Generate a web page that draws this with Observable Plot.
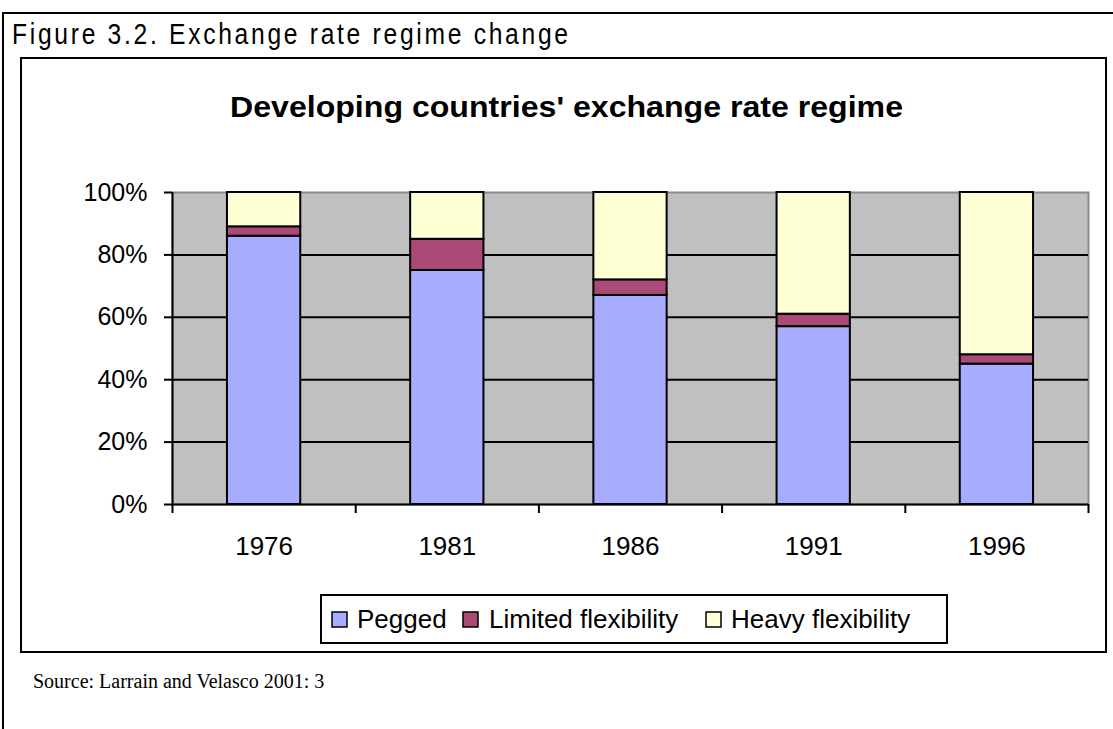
<!DOCTYPE html>
<html><head><meta charset="utf-8">
<script src="https://cdn.jsdelivr.net/npm/d3@7"></script>
<script src="https://cdn.jsdelivr.net/npm/@observablehq/plot@0.6"></script>
<style>
body{margin:0;width:1113px;height:729px;overflow:hidden;background:#fff;position:relative;font-family:"Liberation Sans",Arial,sans-serif;}
#bg{position:absolute;left:0;top:0;}
#chart{position:absolute;left:20px;top:170px;}
</style></head><body>
<svg id="bg" width="1113" height="729"></svg>
<div id="chart"></div>
<script>
const years = ["1976", "1981", "1986", "1991", "1996"];
const seriesNames = ["Pegged", "Limited flexibility", "Heavy flexibility"];
const pegged = [86, 75, 67, 57, 45];
const limited = [3, 10, 5, 4, 3];
const heavy = [11, 15, 28, 39, 52];
const seriesColors = ["#A8ACFF", "#AB4A76", "#FFFFD6"];
const yTicks = [0, 20, 40, 60, 80, 100];
const figureTitle = "Figure 3.2. Exchange rate regime change";
const chartTitle = "Developing countries' exchange rate regime";
const sourceNote = "Source: Larrain and Velasco 2001: 3";

const data = [];
[pegged, limited, heavy].forEach((vals, s) =>
  vals.forEach((v, i) => data.push({i, year: years[i], series: seriesNames[s], value: v})));

const chart = Plot.plot({
  width: 1086, height: 394,
  marginLeft: 152, marginRight: 18, marginTop: 22, marginBottom: 60,
  style: {fontFamily: "'Liberation Sans', Arial, sans-serif", fontSize: "25px", color: "black", background: "transparent", overflow: "visible"},
  x: {domain: [0, years.length], axis: null, label: null},
  y: {domain: [0, 100], axis: null, label: null},
  color: {domain: seriesNames, range: seriesColors},
  marks: [
    Plot.frame({fill: "#C0C0C0", stroke: "#8a8a8a", strokeWidth: 2}),
    Plot.gridY(yTicks.filter(t => t > 0 && t < 100), {stroke: "black", strokeOpacity: 1, strokeWidth: 2}),
    Plot.rectY(data, {x1: d => d.i + 0.3, x2: d => d.i + 0.7, y: "value", fill: "series", stroke: "black", strokeWidth: 2}),
    Plot.ruleY([0], {stroke: "black", strokeWidth: 2}),
    Plot.ruleX([0], {stroke: "black", strokeWidth: 2}),
    Plot.axisY(yTicks, {tickSize: 8, tickPadding: 17, tickFormat: d => d + "%", strokeWidth: 2, fontSize: 25, label: null}),
    Plot.axisX(d3.range(years.length + 1), {tickSize: 9, tickFormat: () => "", strokeWidth: 2, label: null}),
    Plot.axisX(d3.range(years.length).map(i => i + 0.5), {tickSize: 0, tickPadding: 32, tickFormat: d => years[Math.floor(d)], fontSize: 26, label: null})
  ]
});
document.getElementById("chart").appendChild(chart);

const bg = d3.select("#bg");
bg.append("path").attr("d", "M3,729V13H1113").attr("fill", "none").attr("stroke", "black").attr("stroke-width", 2);
bg.append("rect").attr("x", 21).attr("y", 58).attr("width", 1085).attr("height", 594)
  .attr("fill", "none").attr("stroke", "black").attr("stroke-width", 2);
bg.append("text").attr("transform", "translate(12,44) scale(0.85,1)")
  .attr("font-family", "'Liberation Sans', sans-serif").attr("font-size", 29)
  .attr("textLength", 556 / 0.85).attr("lengthAdjust", "spacing").text(figureTitle);
bg.append("text").attr("x", 230).attr("y", 117)
  .attr("font-family", "'Liberation Sans', Arial, sans-serif").attr("font-size", 29).attr("font-weight", "bold")
  .attr("textLength", 673).attr("lengthAdjust", "spacingAndGlyphs").text(chartTitle);
// legend
bg.append("rect").attr("x", 321).attr("y", 595).attr("width", 626).attr("height", 48)
  .attr("fill", "white").attr("stroke", "black").attr("stroke-width", 2);
const swX = [332, 463, 706], txX = [357, 489, 731];
seriesNames.forEach((name, k) => {
  bg.append("rect").attr("x", swX[k]).attr("y", 612).attr("width", 15).attr("height", 15)
    .attr("fill", seriesColors[k]).attr("stroke", "black").attr("stroke-width", 1.5);
  bg.append("text").attr("x", txX[k]).attr("y", 628)
    .attr("font-family", "'Liberation Sans', Arial, sans-serif").attr("font-size", 26).text(name);
});
bg.append("text").attr("x", 33).attr("y", 688)
  .attr("font-family", "'Liberation Serif', 'Times New Roman', serif").attr("font-size", 20).text(sourceNote);
</script>
</body></html>
